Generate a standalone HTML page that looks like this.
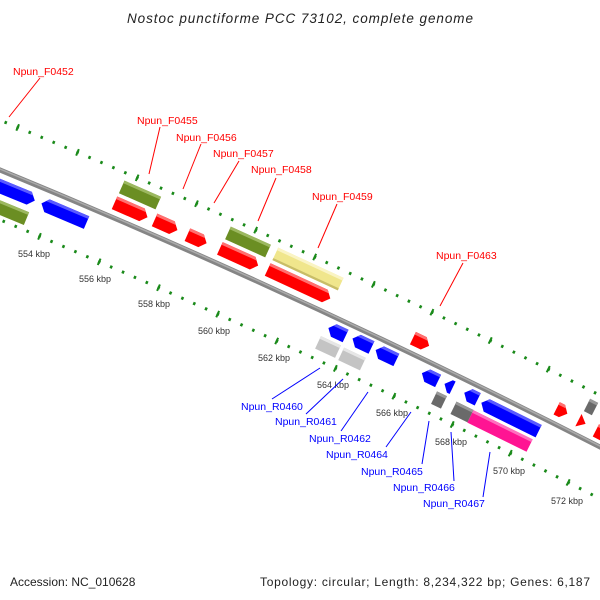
<!DOCTYPE html>
<html><head><meta charset="utf-8"><style>html,body{margin:0;padding:0;background:#fff}svg{display:block}</style></head>
<body>
<svg width="600" height="600" viewBox="0 0 600 600" xmlns="http://www.w3.org/2000/svg" font-family="'Liberation Sans', 'DejaVu Sans', sans-serif">
<rect width="600" height="600" fill="#fff"/>
<text x="300" y="23" text-anchor="middle" font-size="13.5" font-style="italic" fill="#222" textLength="346" lengthAdjust="spacing">Nostoc punctiforme PCC 73102, complete genome</text>

<path d="M-41,103.6 Q319,248.2 679,436" fill="none" stroke="#1a8a1a" stroke-width="3" stroke-dasharray="2.5 10.47" stroke-dashoffset="2.66"/>
<path d="M-41,103.6 Q319,248.2 679,436" fill="none" stroke="#1a8a1a" stroke-width="7" stroke-dasharray="2 62.8" stroke-dashoffset="2.4"/>
<path d="M-79,187.6 Q281,332.2 641,520" fill="none" stroke="#1a8a1a" stroke-width="3" stroke-dasharray="2.5 10.47" stroke-dashoffset="2.66"/>
<path d="M-79,187.6 Q281,332.2 641,520" fill="none" stroke="#1a8a1a" stroke-width="7" stroke-dasharray="2 62.8" stroke-dashoffset="2.4"/>

<path d="M-60,145.6 Q300,290.2 660,478" fill="none" stroke="#858585" stroke-width="5"/>
<path d="M-60,144.6 Q300,289.2 660,477" fill="none" stroke="#ababab" stroke-width="1.5"/>

<g font-size="9" fill="#333">
<text x="18" y="257">554 kbp</text>
<text x="79" y="282">556 kbp</text>
<text x="138" y="307">558 kbp</text>
<text x="198" y="334">560 kbp</text>
<text x="258" y="361">562 kbp</text>
<text x="317" y="388">564 kbp</text>
<text x="376" y="416">566 kbp</text>
<text x="435" y="445">568 kbp</text>
<text x="493" y="474">570 kbp</text>
<text x="551" y="504">572 kbp</text>
</g>

<g fill="#ff0000">
<g transform="translate(14,192) rotate(22.4) scale(1,1.15)"><polygon fill="#0000ff" points="-22.5,-6 16.5,-6 22.5,0 16.5,6 -22.5,6"/><polygon fill="#5a5aff" points="-22.5,-6 16.5,-6 19,-3.5 -22.5,-3.5"/></g>
<g transform="translate(131,210) rotate(23.6) scale(1,1.15)"><polygon points="-18,-6 12,-6 18,0 12,6 -18,6"/><polygon fill="#ff7070" points="-18,-6 12,-6 14.5,-3.5 -18,-3.5"/></g>
<g transform="translate(166,225) rotate(23.9) scale(1,1.15)"><polygon points="-12.5,-6 6.5,-6 12.5,0 6.5,6 -12.5,6"/><polygon fill="#ff7070" points="-12.5,-6 6.5,-6 9,-3.5 -12.5,-3.5"/></g>
<g transform="translate(197,239) rotate(24) scale(1,1.15)"><polygon points="-10.5,-6 4.5,-6 10.5,0 4.5,6 -10.5,6"/><polygon fill="#ff7070" points="-10.5,-6 4.5,-6 7,-3.5 -10.5,-3.5"/></g>
<g transform="translate(239,257) rotate(24.3) scale(1,1.15)"><polygon points="-21,-6 15,-6 21,0 15,6 -21,6"/><polygon fill="#ff7070" points="-21,-6 15,-6 17.5,-3.5 -21,-3.5"/></g>
<g transform="translate(299,284) rotate(24.8) scale(1,1.15)"><polygon points="-34.5,-6 28.5,-6 34.5,0 28.5,6 -34.5,6"/><polygon fill="#ff7070" points="-34.5,-6 28.5,-6 31,-3.5 -34.5,-3.5"/></g>
<g transform="translate(421,342) rotate(25.7) scale(1,1.15)"><polygon points="-9,-6 3,-6 9,0 3,6 -9,6"/><polygon fill="#ff7070" points="-9,-6 3,-6 5.5,-3.5 -9,-3.5"/></g>
<g transform="translate(562,411) rotate(26.8) scale(1,1.15)"><polygon points="-6,-6 0,-6 6,0 0,6 -6,6"/><polygon fill="#ff7070" points="-6,-6 0,-6 2.5,-3.5 -6,-3.5"/></g>
<g transform="translate(582,422) rotate(27) scale(1,1.15)"><polygon points="-4,-6 4,0 -4,6"/></g>
<g transform="translate(603,434) rotate(27) scale(1,1.15)"><polygon points="-8,-6 2,-6 8,0 2,6 -8,6"/><polygon fill="#ff7070" points="-8,-6 2,-6 4.5,-3.5 -8,-3.5"/></g>
</g>

<g fill="#0000ff">
<g transform="translate(64,213) rotate(23) scale(-1,1.15)"><polygon points="-24.5,-6 18.5,-6 24.5,0 18.5,6 -24.5,6"/><polygon fill="#5a5aff" points="-24.5,-6 18.5,-6 21,-3.5 -24.5,-3.5"/></g>
<g transform="translate(337,332) rotate(25.1) scale(-1,1.15)"><polygon points="-9.5,-6 3.5,-6 9.5,0 3.5,6 -9.5,6"/><polygon fill="#5a5aff" points="-9.5,-6 3.5,-6 6,-3.5 -9.5,-3.5"/></g>
<g transform="translate(362,343) rotate(25.3) scale(-1,1.15)"><polygon points="-10.5,-6 4.5,-6 10.5,0 4.5,6 -10.5,6"/><polygon fill="#5a5aff" points="-10.5,-6 4.5,-6 7,-3.5 -10.5,-3.5"/></g>
<g transform="translate(386,355) rotate(25.5) scale(-1,1.15)"><polygon points="-11.5,-6 5.5,-6 11.5,0 5.5,6 -11.5,6"/><polygon fill="#5a5aff" points="-11.5,-6 5.5,-6 8,-3.5 -11.5,-3.5"/></g>
<g transform="translate(430,377) rotate(25.8) scale(-1,1.15)"><polygon points="-9,-6 3,-6 9,0 3,6 -9,6"/><polygon fill="#5a5aff" points="-9,-6 3,-6 5.5,-3.5 -9,-3.5"/></g>
<g transform="translate(449,386) rotate(25.9) scale(-1,1.15)"><polygon points="-4,-6 -1,-6 5,0 -1,6 -4,6"/></g>
<g transform="translate(471,396) rotate(26.1) scale(-1,1.15)"><polygon points="-7.5,-6 1.5,-6 7.5,0 1.5,6 -7.5,6"/><polygon fill="#5a5aff" points="-7.5,-6 1.5,-6 4,-3.5 -7.5,-3.5"/></g>
<g transform="translate(510,417) rotate(26.4) scale(-1,1.15)"><polygon points="-32,-6 26,-6 32,0 26,6 -32,6"/><polygon fill="#5a5aff" points="-32,-6 26,-6 28.5,-3.5 -32,-3.5"/></g>
</g>

<g transform="translate(8,211) rotate(22.4) scale(1,1.15)"><rect x="-20" y="-6" width="40" height="12" fill="#6b8e23"/><rect x="-20" y="-6" width="40" height="2.5" fill="#9cb860"/></g>
<g transform="translate(140,195) rotate(23.8) scale(1,1.15)"><rect x="-20" y="-6" width="40" height="12" fill="#6b8e23"/><rect x="-20" y="-6" width="40" height="2.5" fill="#9cb860"/></g>
<g transform="translate(248,242) rotate(24.4) scale(1,1.15)"><rect x="-22" y="-6" width="44" height="12" fill="#6b8e23"/><rect x="-22" y="-6" width="44" height="2.5" fill="#9cb860"/></g>
<g transform="translate(308,269) rotate(24.8) scale(1,1.15)"><rect x="-36" y="-6" width="72" height="12" fill="#f0e68c"/><rect x="-36" y="-6" width="72" height="2.5" fill="#faf4c4"/><rect x="-36" y="4" width="72" height="2" fill="#c8bd68"/></g>
<g transform="translate(328,347) rotate(25) scale(1,1.15)"><rect x="-11" y="-6" width="22" height="12" fill="#c4c4c4"/><rect x="-11" y="-6" width="22" height="2.5" fill="#e6e6e6"/></g>
<g transform="translate(352,359) rotate(25.2) scale(1,1.15)"><rect x="-12" y="-6" width="24" height="12" fill="#c4c4c4"/><rect x="-12" y="-6" width="24" height="2.5" fill="#e6e6e6"/></g>
<g transform="translate(439,400) rotate(25.8) scale(1,1.15)"><rect x="-5.5" y="-6" width="11" height="12" fill="#6a6a6a"/><rect x="-5.5" y="-6" width="11" height="2.5" fill="#999"/></g>
<g transform="translate(462,412) rotate(26) scale(1,1.15)"><rect x="-9.5" y="-6" width="19" height="12" fill="#6a6a6a"/><rect x="-9.5" y="-6" width="19" height="2.5" fill="#999"/></g>
<g transform="translate(500,431) rotate(26.3) scale(1,1.15)"><rect x="-33" y="-6" width="66" height="12" fill="#ff1493"/><rect x="-33" y="-6" width="66" height="2.5" fill="#ff70bf"/></g>
<g transform="translate(591,407) rotate(27) scale(1,1.15)"><rect x="-4.5" y="-6" width="9" height="12" fill="#6a6a6a"/><rect x="-4.5" y="-6" width="9" height="2.5" fill="#999"/></g>

<g stroke="#ff0000" stroke-width="1">
<line x1="40" y1="78" x2="9" y2="117"/>
<line x1="160" y1="127" x2="149" y2="174"/>
<line x1="201" y1="144" x2="183" y2="189"/>
<line x1="239" y1="161" x2="214" y2="203"/>
<line x1="276" y1="178" x2="258" y2="221"/>
<line x1="337" y1="204" x2="318" y2="248"/>
<line x1="463" y1="263" x2="440" y2="306"/>
</g>
<g fill="#ff0000" font-size="10.5">
<text x="13" y="75">Npun_F0452</text>
<text x="137" y="124">Npun_F0455</text>
<text x="176" y="141">Npun_F0456</text>
<text x="213" y="157">Npun_F0457</text>
<text x="251" y="173">Npun_F0458</text>
<text x="312" y="200">Npun_F0459</text>
<text x="436" y="259">Npun_F0463</text>
</g>

<g stroke="#0000ff" stroke-width="1">
<line x1="272" y1="399" x2="320" y2="368"/>
<line x1="306" y1="414" x2="343" y2="379"/>
<line x1="341" y1="431" x2="368" y2="392"/>
<line x1="386" y1="447" x2="411" y2="412"/>
<line x1="422" y1="464" x2="429" y2="421"/>
<line x1="454" y1="481" x2="451" y2="432"/>
<line x1="483" y1="497" x2="490" y2="452"/>
</g>
<g fill="#0000ff" font-size="10.5">
<text x="241" y="410">Npun_R0460</text>
<text x="275" y="425">Npun_R0461</text>
<text x="309" y="442">Npun_R0462</text>
<text x="326" y="458">Npun_R0464</text>
<text x="361" y="475">Npun_R0465</text>
<text x="393" y="491">Npun_R0466</text>
<text x="423" y="507">Npun_R0467</text>
</g>

<text x="10" y="586" font-size="12" fill="#222">Accession: NC_010628</text>
<text x="590" y="586" font-size="12" fill="#222" text-anchor="end" textLength="330" lengthAdjust="spacing">Topology: circular; Length: 8,234,322 bp; Genes: 6,187</text>
</svg>
</body></html>
